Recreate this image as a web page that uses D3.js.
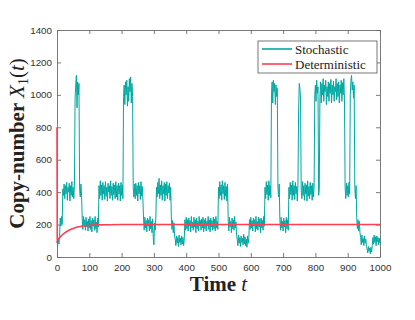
<!DOCTYPE html>
<html>
<head>
<meta charset="utf-8">
<script src="https://cdn.jsdelivr.net/npm/d3@7"></script>
<style>
  body { margin: 0; background: #fff; }
  svg { display: block; }
</style>
</head>
<body>
<svg id="chart" width="415" height="320"></svg>
<script>
var margin = {top: 30, right: 35, bottom: 63, left: 57};

// stochastic copy-number, read every 2 time units from t=0 to t=1000
var stochStep = 2;
var stochastic = [
  95, 70, 110, 80, 130, 240, 190, 250, 200, 420, 380, 450, 360, 440, 390, 460, 350, 430, 400, 455, 345, 440, 380, 465, 370, 430, 360, 450,
  980, 1060, 1120, 920, 1080, 1000, 1070, 420, 370, 450, 380, 240, 170, 250, 190, 230, 165, 245, 185, 220, 160, 235,
  // 100
  180, 250, 170, 225, 155, 240, 190, 230, 165, 250, 175, 215, 150, 240, 185,
  440, 360, 470, 380, 445, 350, 460, 390, 440, 355, 465, 375, 430, 345, 455, 400, 440, 360, 470, 380,
  435, 350, 455, 385, 445, 360, 465, 370, 440, 350, 455, 390, 440, 345, 460,
  // 200
  380, 445, 360, 990, 1060, 940, 1080, 1000, 1090, 930, 1050, 960, 1100, 1020, 1110, 950, 1070, 990,
  430, 370, 450, 360, 455, 380, 440, 345, 460, 390, 440, 355, 465, 375, 435, 350,
  230, 165, 245, 180, 225, 155, 240, 190, 230, 160, 250, 175, 220, 150, 235, 120,
  // 300
  75, 210, 165, 240, 430, 370, 460, 390, 485, 360, 445, 380, 470, 350, 440, 390, 460, 345, 450, 380, 465, 360, 440, 395, 455, 350, 430,
  240, 170, 225, 150, 210, 130, 110, 70, 130, 85, 120, 65, 135, 90, 115, 75, 130, 80, 120, 70, 110, 230, 165,
  // 400
  245, 175, 230, 160, 240, 190, 225, 155, 250, 180, 215, 165, 245, 185, 230, 150, 240, 175, 220, 160,
  250, 190, 225, 165, 235, 180, 245, 155, 230, 175, 240, 160, 220, 190, 250, 170, 230, 155, 240, 185,
  225, 165, 245, 175, 235, 160, 250, 180, 220, 170,
  // 500
  430, 360, 465, 380, 445, 350, 470, 390, 440, 355, 460, 375, 435, 345, 450,
  230, 160, 245, 185, 220, 150, 240, 175, 230, 165, 250, 180, 215, 135,
  110, 70, 135, 85, 120, 65, 130, 90, 115, 75, 140, 80, 125, 70, 110, 60, 130, 85, 120, 230, 170,
  // 600
  245, 180, 225, 160, 240, 190, 230, 155, 250, 175, 220, 165, 245, 185, 235, 150, 240, 180, 225, 165, 250, 190,
  430, 360, 465, 385, 445, 350, 470, 380, 440, 365, 1000, 1080, 950, 1090, 1020, 1070, 940, 1060, 990, 1040,
  430, 370, 450, 230, 165, 245, 180, 220,
  // 700
  160, 240, 185, 225, 150, 245, 175, 230, 165,
  430, 360, 460, 385, 445, 350, 470, 380, 440, 355, 460, 390, 435, 345, 450, 900, 1070, 1040, 980,
  420, 360, 465, 380, 440, 350, 455, 390, 445, 345, 470, 375, 435, 360, 460, 385, 440, 350, 455, 370, 430, 1000,
  // 800
  1060, 960, 1090, 1010, 1050, 380, 420,
  990, 1080, 950, 1070, 1000, 1100, 960, 1060, 1020, 1090, 940, 1050, 990, 1080, 960, 1070, 1010, 1095, 950, 1060,
  1000, 1085, 960, 1050, 1020, 1100, 970, 1070, 990, 1080, 950, 1060, 1010, 1090, 960, 1075, 1000, 1100, 970,
  430, 360, 455, 380,
  // 900
  440, 370, 460, 390, 1000, 1090, 1120, 1030, 1080, 980, 1060, 430, 360, 440, 240, 175, 230, 160, 220, 150,
  120, 75, 135, 90, 115, 70, 130, 85, 110, 65, 50, 25, 65, 35, 55, 20, 60, 30, 70,
  120, 80, 135, 90, 125, 70, 130, 95, 120, 75, 115,
  85
];

// deterministic solution
var detTimes  = [0, 0.8, 5, 10, 15, 20, 30, 40, 50, 60, 80, 100, 130, 160, 200, 300, 1000];
var detValues = [800, 100, 112, 124, 134, 143, 157, 168, 176, 183, 191, 195, 198, 199, 200, 200, 200];

var xTicks = [0, 100, 200, 300, 400, 500, 600, 700, 800, 900, 1000];
var yTicks = [0, 200, 400, 600, 800, 1000, 1200, 1400];

var seriesNames = ["Stochastic", "Deterministic"];
var seriesColors = ["#00a8a2", "#ff3f52"];

var svg = d3.select("#chart");
var width = +svg.attr("width") - margin.left - margin.right;
var height = +svg.attr("height") - margin.top - margin.bottom;
var g = svg.append("g").attr("transform", `translate(${margin.left}, ${margin.top})`);

var xScale = d3.scaleLinear().domain([0, 1000]).range([0, width]);
var yScale = d3.scaleLinear().domain([0, 1400]).range([height, 0]);

var stochRows = stochastic.map((v, i) => ({t: i * stochStep, v: v}));
var detRows = detTimes.map((t, i) => ({t: t, v: detValues[i]}));

var line = d3.line()
  .x(d => xScale(d.t))
  .y(d => yScale(d.v));

// axes, ticks pointing in, on all four sides
var axisColor = "#6b6b6b";
var tickFont = "'Liberation Sans', Arial, sans-serif";
var fmt = d3.format("d");

var xAxis = g.append("g")
  .attr("transform", `translate(0, ${height})`)
  .call(d3.axisBottom(xScale).tickValues(xTicks).tickFormat(fmt).tickSizeInner(-4).tickSizeOuter(0).tickPadding(7));
var yAxis = g.append("g")
  .call(d3.axisLeft(yScale).tickValues(yTicks).tickFormat(fmt).tickSizeInner(-4).tickSizeOuter(0).tickPadding(5));
var xTop = g.append("g")
  .call(d3.axisTop(xScale).tickValues(xTicks).tickSizeInner(-4).tickSizeOuter(0).tickFormat(""));
var yRight = g.append("g")
  .attr("transform", `translate(${width}, 0)`)
  .call(d3.axisRight(yScale).tickValues(yTicks).tickSizeInner(-4).tickSizeOuter(0).tickFormat(""));

[xAxis, yAxis, xTop, yRight].forEach(function(a){
  a.selectAll("path, line").attr("stroke", axisColor).attr("stroke-width", 0.9);
  a.selectAll("text")
    .attr("fill", "#333")
    .style("font-family", tickFont)
    .style("font-size", "9.8px");
});

// clip to the box (a little slack so the t=0 drop shows on the axis)
svg.append("defs").append("clipPath").attr("id", "clip")
  .append("rect").attr("x", -2).attr("y", -2).attr("width", width + 4).attr("height", height + 4);

var plot = g.append("g").attr("clip-path", "url(#clip)");

plot.append("path")
  .datum(stochRows)
  .attr("fill", "none")
  .attr("stroke", seriesColors[0])
  .attr("stroke-width", 1)
  .attr("d", line);

plot.append("path")
  .datum(detRows)
  .attr("fill", "none")
  .attr("stroke", seriesColors[1])
  .attr("stroke-width", 1.6)
  .attr("d", line);

// axis labels
var labelFont = "'Liberation Serif', 'Times New Roman', serif";

svg.append("text")
  .attr("x", margin.left + width / 2)
  .attr("y", 291)
  .attr("text-anchor", "middle")
  .style("font-family", labelFont)
  .style("font-size", "21px")
  .style("font-weight", "bold")
  .attr("fill", "#222")
  .call(function(t){
    t.append("tspan").text("Time ");
    t.append("tspan").style("font-style", "italic").style("font-weight", "normal").text("t");
  });

var ylab = svg.append("text")
  .attr("transform", `translate(24, ${margin.top + height / 2}) rotate(-90)`)
  .attr("text-anchor", "middle")
  .style("font-family", labelFont)
  .style("font-size", "21px")
  .style("font-weight", "bold")
  .attr("fill", "#222");
ylab.append("tspan").text("Copy-number ");
ylab.append("tspan").style("font-style", "italic").style("font-weight", "normal").text("X");
ylab.append("tspan").attr("dy", 4).style("font-size", "14px").style("font-weight", "normal").text("1");
ylab.append("tspan").attr("dy", -4).style("font-weight", "normal").text("(");
ylab.append("tspan").style("font-style", "italic").style("font-weight", "normal").text("t");
ylab.append("tspan").style("font-weight", "normal").text(")");

// legend
var legend = svg.append("g").attr("transform", "translate(258, 41)");
legend.append("rect")
  .attr("width", 119)
  .attr("height", 32)
  .attr("fill", "#fff")
  .attr("stroke", "#555")
  .attr("stroke-width", 0.8);

seriesNames.forEach(function(name, i){
  var row = legend.append("g").attr("transform", `translate(0, ${8 + i * 15})`);
  row.append("line")
    .attr("x1", 4).attr("x2", 34)
    .attr("stroke", seriesColors[i])
    .attr("stroke-width", 1.6);
  row.append("text")
    .attr("x", 37)
    .attr("dy", "0.35em")
    .style("font-family", labelFont)
    .style("font-size", "13px")
    .attr("fill", "#222")
    .text(name);
});
</script>
</body>
</html>
